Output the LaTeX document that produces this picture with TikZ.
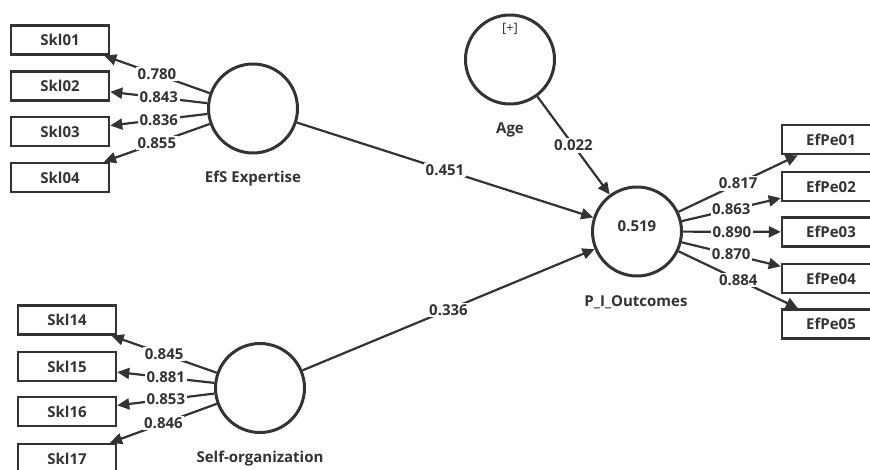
\documentclass[tikz,border=0pt]{standalone}
\usepackage{fontspec}
\setmainfont{Open Sans}
\usetikzlibrary{arrows.meta}
\definecolor{ink}{HTML}{333333}
\begin{document}
\begin{tikzpicture}[x=1pt,y=-1pt,
 every node/.style={font=\fontsize{15}{17}\selectfont\bfseries, text=ink},
 ind/.style={draw=ink, line width=2.5pt, minimum width=98pt, minimum height=29pt, inner sep=0pt},
 lv/.style={draw=ink, circle, line width=3pt, minimum size=89pt, inner sep=0pt},
 lbl/.style={fill=white, inner sep=1.5pt},
 arr/.style={draw=ink, line width=2.2pt, -{Triangle[length=12pt,width=11pt]}}]
\useasboundingbox (0,0) rectangle (870,469);
\clip (0,0) rectangle (870,469);
% indicators left top
\node[ind] (s1) at (60,40) {Skl01};
\node[ind] (s2) at (60,86) {Skl02};
\node[ind] (s3) at (60,131.5) {Skl03};
\node[ind] (s4) at (60,177.5) {Skl04};
% indicators left bottom
\node[ind] (s14) at (67,320) {Skl14};
\node[ind] (s15) at (67,366.5) {Skl15};
\node[ind] (s16) at (67,411.5) {Skl16};
\node[ind] (s17) at (67,458.5) {Skl17};
% indicators right
\node[ind] (e1) at (831,139.5) {EfPe01};
\node[ind] (e2) at (831,186.5) {EfPe02};
\node[ind] (e3) at (831,232) {EfPe03};
\node[ind] (e4) at (831,278.5) {EfPe04};
\node[ind] (e5) at (831,324) {EfPe05};
% latent variables
\node[lv] (efs) at (253,108.5) {};
\node (efsl) at (253,179) {EfS Expertise};
\node[lv] (so) at (260,388) {};
\node (sol) at (260,459) {Self-organization};
\node[lv] (age) at (510,59.5) {};
\node[font=\fontsize{13}{14}\selectfont, text=ink] (plus) at (510,29) {[+]};
\node (agel) at (510,130) {Age};
\node[lv] (pio) at (637,231.5) {};
\node (r2) at (637,226) {0.519};
\node (piol) at (636,302) {P\_I\_Outcomes};
% outer loadings
\draw[arr] (efs) -- node[lbl]{0.780} (s1);
\draw[arr] (efs) -- node[lbl]{0.843} (s2);
\draw[arr] (efs) -- node[lbl]{0.836} (s3);
\draw[arr] (efs) -- node[lbl]{0.855} (s4);
\draw[arr] (so) -- node[lbl]{0.845} (s14);
\draw[arr] (so) -- node[lbl]{0.881} (s15);
\draw[arr] (so) -- node[lbl]{0.853} (s16);
\draw[arr] (so) -- node[lbl]{0.846} (s17);
\draw[arr] (pio) -- node[lbl]{0.817} (e1);
\draw[arr] (pio) -- node[lbl]{0.863} (e2);
\draw[arr] (pio) -- node[lbl]{0.890} (e3);
\draw[arr] (pio) -- node[lbl]{0.870} (e4);
\draw[arr] (pio) -- node[lbl]{0.884} (e5);
% path coefficients
\draw[arr] (efs) -- node[lbl]{0.451} (pio);
\draw[arr] (so) -- node[lbl]{0.336} (pio);
\draw[arr] (age) -- node[lbl]{0.022} (pio);
\end{tikzpicture}
\end{document}
